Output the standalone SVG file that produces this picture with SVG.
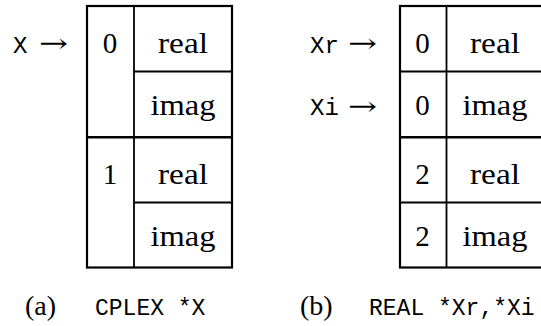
<svg xmlns="http://www.w3.org/2000/svg" width="541" height="326" viewBox="0 0 541 326">
<style>
.bg{fill:#fff}
.outer{fill:none;stroke:#000;stroke-width:2.2}
.ln{stroke:#000;stroke-width:1.8;fill:none}
.mid{stroke:#000;stroke-width:2.4;fill:none}
.rm{font-family:"Liberation Serif","Times New Roman",Times,serif;font-size:29px;fill:#000;text-anchor:middle}
.tt{font-family:"Liberation Mono","Courier New",Courier,monospace;font-size:24px;fill:#000}
.ttc{font-family:"Liberation Mono","Courier New",Courier,monospace;font-size:23px;fill:#000}
.arr{font-family:"DejaVu Serif","Liberation Serif",serif;font-size:26px;fill:#000}
.cap{font-family:"Liberation Serif","Times New Roman",Times,serif;font-size:28px;fill:#000}
</style>
<rect class="bg" x="0" y="0" width="541" height="326"/>
<g id="tableA">
  <rect class="outer" x="87" y="6" width="145" height="261.5"/>
  <line class="ln" x1="134" y1="6" x2="134" y2="267.5"/>
  <line class="ln" x1="134" y1="71.5" x2="232" y2="71.5"/>
  <line class="mid" x1="87" y1="137.2" x2="232" y2="137.2"/>
  <line class="ln" x1="134" y1="202.5" x2="232" y2="202.5"/>
  <text class="rm" x="110" y="52.5">0</text>
  <text class="rm" x="183" y="52.5" textLength="50" lengthAdjust="spacingAndGlyphs">real</text>
  <text class="rm" x="183" y="115" textLength="65" lengthAdjust="spacingAndGlyphs">imag</text>
  <text class="rm" x="110" y="183.5">1</text>
  <text class="rm" x="183" y="183.5" textLength="50" lengthAdjust="spacingAndGlyphs">real</text>
  <text class="rm" x="183" y="246" textLength="65" lengthAdjust="spacingAndGlyphs">imag</text>
</g>
<g id="tableB">
  <rect class="outer" x="400" y="6" width="145" height="261.5"/>
  <line class="ln" x1="446.5" y1="6" x2="446.5" y2="267.5"/>
  <line class="ln" x1="400" y1="71.5" x2="545" y2="71.5"/>
  <line class="mid" x1="400" y1="137.2" x2="545" y2="137.2"/>
  <line class="ln" x1="400" y1="202.5" x2="545" y2="202.5"/>
  <text class="rm" x="422.5" y="52.5">0</text>
  <text class="rm" x="495" y="52.5" textLength="50" lengthAdjust="spacingAndGlyphs">real</text>
  <text class="rm" x="422.5" y="115">0</text>
  <text class="rm" x="495" y="115" textLength="65" lengthAdjust="spacingAndGlyphs">imag</text>
  <text class="rm" x="422.5" y="183.5">2</text>
  <text class="rm" x="495" y="183.5" textLength="50" lengthAdjust="spacingAndGlyphs">real</text>
  <text class="rm" x="422.5" y="246">2</text>
  <text class="rm" x="495" y="246" textLength="65" lengthAdjust="spacingAndGlyphs">imag</text>
</g>
<g id="connectors">
  <text class="tt" x="13" y="52.5">X</text>
  <text class="arr" x="39" y="52" textLength="29" lengthAdjust="spacingAndGlyphs">→</text>
  <text class="tt" x="310" y="52.5">Xr</text>
  <text class="arr" x="348" y="52" textLength="29" lengthAdjust="spacingAndGlyphs">→</text>
  <text class="tt" x="310" y="115">Xi</text>
  <text class="arr" x="348" y="114.5" textLength="29" lengthAdjust="spacingAndGlyphs">→</text>
</g>
<g id="captions">
  <text class="cap" x="25" y="315">(a)</text>
  <text class="ttc" x="95" y="315">CPLEX *X</text>
  <text class="cap" x="300" y="315">(b)</text>
  <text class="ttc" x="369" y="315">REAL *Xr,*Xi</text>
</g>
</svg>
